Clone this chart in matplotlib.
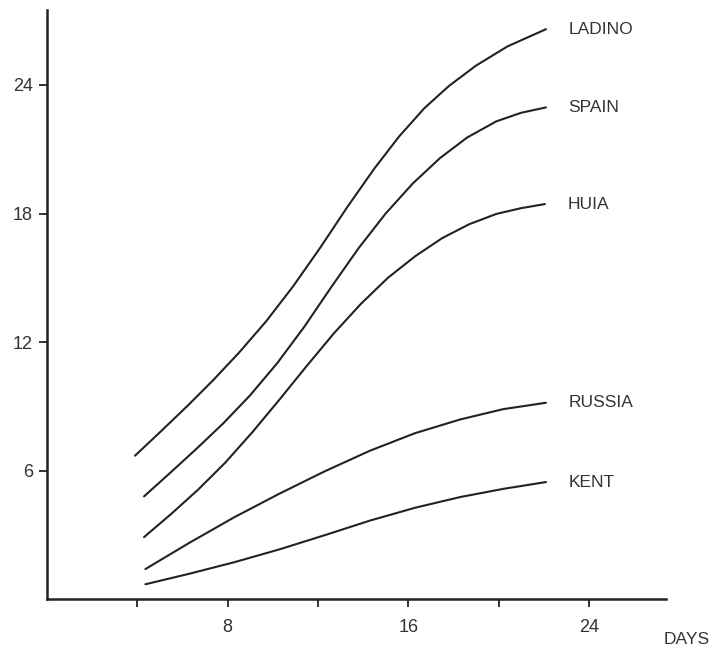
import matplotlib
matplotlib.use("Agg")
import matplotlib.pyplot as plt

plt.rcParams["font.family"] = ["Liberation Sans", "DejaVu Sans"]

# ---- data (x = days, y = value) ----
ladino_x = [3.9, 5.0, 6.24, 7.35, 8.5, 9.7, 10.9, 12.1, 13.3, 14.5, 15.6, 16.7, 17.8, 19.0, 20.4, 22.1]
ladino_y = [6.7, 7.79, 9.04, 10.21, 11.5, 12.96, 14.6, 16.4, 18.3, 20.1, 21.6, 22.9, 23.95, 24.9, 25.8, 26.6]

spain_x = [4.3, 5.5, 6.6, 7.8, 9.0, 10.2, 11.4, 12.6, 13.8, 15.0, 16.2, 17.4, 18.6, 19.9, 21.0, 22.1]
spain_y = [4.8, 5.94, 7.0, 8.2, 9.52, 11.02, 12.72, 14.58, 16.38, 18.0, 19.4, 20.58, 21.54, 22.3, 22.7, 22.95]

huia_x = [4.3, 5.5, 6.7, 7.9, 9.1, 10.3, 11.5, 12.7, 13.9, 15.1, 16.3, 17.5, 18.7, 19.9, 21.0, 22.05]
huia_y = [2.9, 3.98, 5.12, 6.38, 7.8, 9.32, 10.88, 12.4, 13.78, 15.0, 16.0, 16.85, 17.5, 17.98, 18.25, 18.44]

russia_x = [4.36, 6.3, 8.3, 10.3, 12.3, 14.3, 16.3, 18.3, 20.2, 22.1]
russia_y = [1.41, 2.63, 3.83, 4.93, 5.97, 6.93, 7.75, 8.39, 8.87, 9.17]

kent_x = [4.36, 6.3, 8.3, 10.3, 12.3, 14.3, 16.3, 18.3, 20.2, 22.1]
kent_y = [0.7, 1.19, 1.73, 2.33, 2.99, 3.67, 4.27, 4.77, 5.15, 5.47]

series = [
    ("LADINO", ladino_x, ladino_y),
    ("SPAIN", spain_x, spain_y),
    ("HUIA", huia_x, huia_y),
    ("RUSSIA", russia_x, russia_y),
    ("KENT", kent_x, kent_y),
]

x_ticks = [4, 8, 12, 16, 20, 24]
x_tick_labels = ["", "8", "", "16", "", "24"]
y_ticks = [6, 12, 18, 24]

ink = "#222222"

fig = plt.figure(figsize=(7.22, 6.6), dpi=100)
ax = fig.add_axes([0.065, 0.092, 0.857, 0.893])

for name, xs, ys in series:
    ax.plot(xs, ys, color=ink, lw=1.5, solid_capstyle="round", solid_joinstyle="round")
    ax.text(xs[-1] + 1.0, ys[-1], name, color="#333333", fontsize=12.5,
            va="center", ha="left")

ax.set_xlim(0, 27.4)
ax.set_ylim(0, 27.5)
ax.set_xticks(x_ticks)
ax.set_xticklabels(x_tick_labels)
ax.set_yticks(y_ticks)
ax.tick_params(axis="both", direction="out", length=6, width=1.3, colors=ink,
               labelsize=13, labelcolor="#333333")
ax.tick_params(axis="x", pad=8)
ax.tick_params(axis="y", pad=4)

for side in ["top", "right"]:
    ax.spines[side].set_visible(False)
for side in ["left", "bottom"]:
    ax.spines[side].set_linewidth(1.8)
    ax.spines[side].set_color(ink)

fig.text(664 / 722, 1 - 640 / 660, "DAYS", fontsize=12.5, color="#333333",
         ha="left", va="center")

fig.savefig("out.png", dpi=100)
